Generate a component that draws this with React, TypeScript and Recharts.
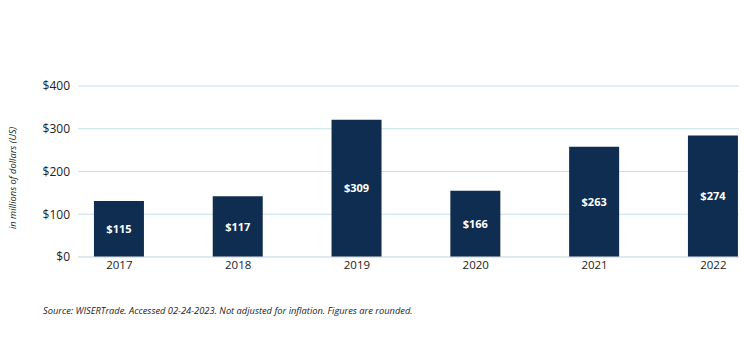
import React from 'react';
import { BarChart, Bar, XAxis, YAxis, CartesianGrid, LabelList } from 'recharts';

// years and values
const years = [2017, 2018, 2019, 2020, 2021, 2022];
const barValues = [131, 142, 321, 155, 258, 284];
const valueLabels = ['$115', '$117', '$309', '$166', '$263', '$274'];
const yTicks = [0, 100, 200, 300, 400];

const data = years.map((year, i) => ({ year, value: barValues[i], label: valueLabels[i] }));

const FONT = '"Open Sans", sans-serif';

const App = () => {
  return (
    <div style={{ width: 745, height: 353, position: 'relative', fontFamily: FONT, background: '#fff' }}>
      <style>{'body{margin:0}'}</style>
      <BarChart
        width={745}
        height={353}
        data={data}
        margin={{ top: 86, right: 6, left: 0, bottom: 66 }}
      >
        <CartesianGrid vertical={false} stroke="#c4e2eb" strokeWidth={1.2} />
        <XAxis
          dataKey="year"
          type="number"
          domain={[2016.652, 2022.216]}
          ticks={years}
          allowDataOverflow
          height={30}
          axisLine={{ stroke: '#dde3e6' }}
          tickLine={false}
          tickSize={2}
          tickMargin={2}
          tick={{ fontSize: 11.5, fill: '#222', fontFamily: FONT }}
        />
        <YAxis
          domain={[0, 400]}
          ticks={yTicks}
          width={78}
          axisLine={false}
          tickLine={false}
          tickFormatter={(v) => `$${v}`}
          tick={{ fontSize: 12, fill: '#222', fontFamily: FONT }}
        />
        <Bar dataKey="value" fill="#0f2c51" barSize={50} isAnimationActive={false}>
          <LabelList
            dataKey="label"
            position="center"
            fill="#fff"
            style={{ fontSize: 11, fontWeight: 700, fontFamily: FONT }}
          />
        </Bar>
      </BarChart>
      <div
        style={{
          position: 'absolute',
          left: 12,
          top: 178,
          transform: 'translate(-50%, -50%) rotate(-90deg)',
          whiteSpace: 'nowrap',
          fontSize: 9.3,
          fontStyle: 'italic',
          color: '#222',
        }}
      >
        in millions of dollars (US)
      </div>
      <div
        style={{
          position: 'absolute',
          left: 43,
          top: 304,
          whiteSpace: 'nowrap',
          fontSize: 9.3,
          fontStyle: 'italic',
          color: '#222',
        }}
      >
        Source: WISERTrade. Accessed 02-24-2023. Not adjusted for inflation. Figures are rounded.
      </div>
    </div>
  );
};

export default App;
